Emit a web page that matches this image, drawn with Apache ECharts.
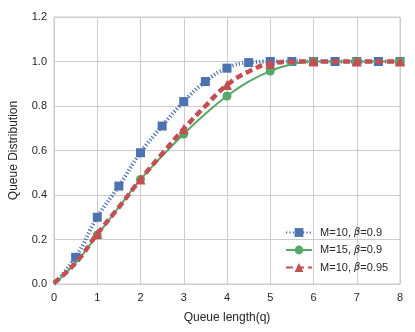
<!DOCTYPE html>
<html>
<head>
<meta charset="utf-8">
<script src="https://cdn.jsdelivr.net/npm/echarts@6/dist/echarts.min.js"></script>
<style>
  html, body { margin: 0; padding: 0; background: #fff; }
  #chart { width: 415px; height: 332px; }
</style>
</head>
<body>
<div id="chart"></div>
<script>
// queue length samples (every 0.5)
var queueLength = [0, 0.5, 1, 1.5, 2, 2.5, 3, 3.5, 4, 4.5, 5, 5.5, 6, 6.5, 7, 7.5, 8];
var distM10b09 = [0, 0.12, 0.30, 0.44, 0.59, 0.71, 0.82, 0.91, 0.97, 0.995, 1.0, 1.0, 1.0, 1.0, 1.0, 1.0, 1.0];
var distM15b09 = [0, 0.095, 0.22, 0.345, 0.47, 0.575, 0.674, 0.765, 0.845, 0.91, 0.957, 0.988, 1.0, 1.0, 1.0, 1.0, 1.0];
var distM10b095 = [0.005, 0.095, 0.225, 0.345, 0.47, 0.585, 0.697, 0.80, 0.894, 0.955, 0.99, 0.999, 1.0, 1.0, 1.0, 1.0, 1.0];

var font = 'Liberation Sans, Arial, sans-serif';

// markers: blue at every half step (not 0), others only on whole numbers
function points(vals, everyHalf) {
  return vals.map(function (v, i) {
    var x = queueLength[i];
    var marked = x > 0 && (everyHalf || x % 1 === 0);
    return marked ? [x, v] : { value: [x, v], symbol: 'none' };
  });
}

function legendName(m, b) {
  return '{a|M=' + m + ', }{b|β}{a|=' + b + '}';
}

var chart = echarts.init(document.getElementById('chart'));
chart.setOption({
  animation: false,
  backgroundColor: '#fff',
  grid: {
    left: 52,
    right: 15,
    top: 17,
    bottom: 48,
    show: true,
    borderColor: '#cccccc',
    borderWidth: 1
  },
  legend: {
    orient: 'vertical',
    left: 280,
    top: 222,
    itemWidth: 26,
    itemHeight: 11,
    itemGap: 6.5,
    textStyle: {
      fontFamily: font,
      fontSize: 11,
      color: '#262626',
      rich: {
        a: { fontFamily: font, fontSize: 11, color: '#262626' },
        b: { fontFamily: 'DejaVu Sans', fontStyle: 'italic', fontSize: 10, color: '#262626' }
      }
    },
    formatter: function (n) { return ' ' + n; },
    data: [legendName(10, 0.9), legendName(15, 0.9), legendName(10, 0.95)]
  },
  xAxis: {
    type: 'value',
    min: 0,
    max: 8,
    interval: 1,
    name: 'Queue length(q)',
    nameLocation: 'middle',
    nameGap: 28,
    nameTextStyle: { fontFamily: font, fontSize: 12, color: '#262626' },
    axisLine: { show: false },
    axisTick: { show: false },
    axisLabel: { fontFamily: font, fontSize: 11, color: '#262626', margin: 8 },
    splitLine: { show: true, lineStyle: { color: '#cccccc', width: 1 } }
  },
  yAxis: {
    type: 'value',
    min: 0,
    max: 1.2,
    interval: 0.2,
    name: 'Queue Distribution',
    nameLocation: 'middle',
    nameGap: 34,
    nameTextStyle: { fontFamily: font, fontSize: 12, color: '#262626' },
    axisLine: { show: false },
    axisTick: { show: false },
    axisLabel: {
      fontFamily: font, fontSize: 11, color: '#262626', margin: 7,
      formatter: function (v) { return v.toFixed(1); }
    },
    splitLine: { show: true, lineStyle: { color: '#cccccc', width: 1 } }
  },
  series: [
    {
      name: legendName(10, 0.9),
      type: 'line',
      data: points(distM10b09, true),
      smooth: 0.5,
      symbol: 'rect',
      symbolSize: 9,
      itemStyle: { color: '#4C72B0' },
      lineStyle: { color: '#4C72B0', width: 4, type: [1.2, 2.2] },
      z: 2
    },
    {
      name: legendName(15, 0.9),
      type: 'line',
      data: points(distM15b09, false),
      smooth: 0.5,
      symbol: 'circle',
      symbolSize: 9,
      itemStyle: { color: '#55A868' },
      lineStyle: { color: '#55A868', width: 2 },
      z: 3
    },
    {
      name: legendName(10, 0.95),
      type: 'line',
      data: points(distM10b095, false),
      smooth: 0.5,
      symbol: 'triangle',
      symbolSize: 10,
      itemStyle: { color: '#C44E52' },
      lineStyle: { color: '#C44E52', width: 4.5, type: [7, 4] },
      z: 4
    }
  ]
});
</script>
</body>
</html>
